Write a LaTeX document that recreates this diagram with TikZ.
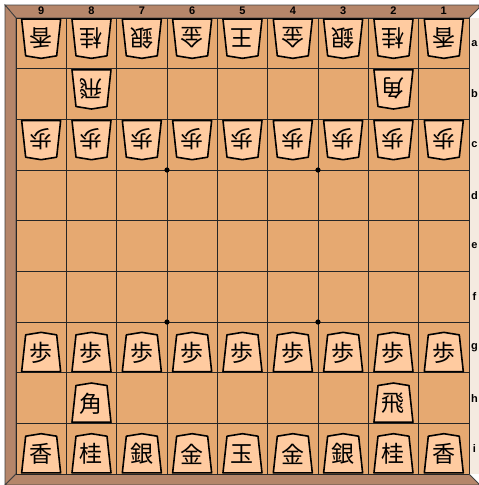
\documentclass[tikz,border=0pt]{standalone}
\usepackage{fontspec}
\setsansfont{Liberation Sans}
\newfontfamily\jpfont{Noto Sans CJK JP}
\definecolor{BoardTan}{HTML}{E6A971}
\definecolor{PiecePeach}{HTML}{FFCBA0}
\definecolor{FrameBrown}{HTML}{B5866A}
\definecolor{MarginPale}{HTML}{F4EAE0}
\tikzset{
  framepart/.style={fill=FrameBrown,draw=black!75,line width=0.8pt,line join=miter},
  gridline/.style={draw=black!85,line width=0.9pt},
  komaline/.style={fill=PiecePeach,draw=black,line width=1.6pt,line join=round},
  komatext/.style={font=\jpfont\fontsize{23}{23}\selectfont,inner sep=0pt,transform shape},
  filelabel/.style={font=\sffamily\bfseries\fontsize{11}{11}\selectfont,inner sep=0pt},
  ranklabel/.style={font=\sffamily\bfseries\fontsize{11}{11}\selectfont,inner sep=0pt}
}
% one piece: column, row, kanji, rotation (0 = sente, 180 = gote)
\newcommand{\koma}[4]{%
  \begin{scope}[shift={(16+#1*50.33-25.17,18+#2*50.67-25.33)},rotate=#4]
    \draw[komaline] (-19.5,24.2) -- (-15.5,-12.5) -- (0,-15) -- (15.5,-12.5) -- (19.5,24.2) -- cycle;
    \node[komatext] (k#1#2) at (0,5.5) {#3};
  \end{scope}}
\begin{document}
\begin{tikzpicture}[x=1pt,y=-1pt]
\useasboundingbox (0,0) rectangle (479,485);
% frame and margins
\fill[white] (0,0) rectangle (479,485);
\fill[MarginPale] (469,18) rectangle (479,474);
\draw[framepart] (5,5) -- (479,5) -- (479,8) -- (469,18) -- (16,18) -- cycle;
\draw[framepart] (5,5) -- (16,18) -- (16,474) -- (5,485) -- cycle;
\draw[framepart] (5,485) -- (16,474) -- (469,474) -- (479,484) -- (479,485) -- cycle;
% board
\fill[BoardTan] (16,18) rectangle (469,474);
\foreach \i in {0,...,9} {
  \draw[gridline] (16+\i*50.33,18) -- (16+\i*50.33,474);
  \draw[gridline] (16,18+\i*50.67) -- (469,18+\i*50.67);
}
\foreach \p/\q in {3/3,6/3,3/6,6/6}
  \fill[black] (16+\p*50.33,18+\q*50.67) circle (2.6);
% labels
\foreach \f [count=\i] in {9,...,1}
  \node[filelabel] (f\i) at (16+\i*50.33-25.17,11) {\f};
\foreach \r [count=\j] in {a,b,c,d,e,f,g,h,i}
  \node[ranklabel] (r\j) at (474.5,18+\j*50.67-25.33) {\r};
% gote pieces
\foreach \k [count=\i] in {香,桂,銀,金,王,金,銀,桂,香}
  \koma{\i}{1}{\k}{180};
\koma{2}{2}{飛}{180}
\koma{8}{2}{角}{180}
\foreach \i in {1,...,9}
  \koma{\i}{3}{歩}{180};
% sente pieces
\foreach \i in {1,...,9}
  \koma{\i}{7}{歩}{0};
\koma{2}{8}{角}{0}
\koma{8}{8}{飛}{0}
\foreach \k [count=\i] in {香,桂,銀,金,玉,金,銀,桂,香}
  \koma{\i}{9}{\k}{0};
\end{tikzpicture}
\end{document}
